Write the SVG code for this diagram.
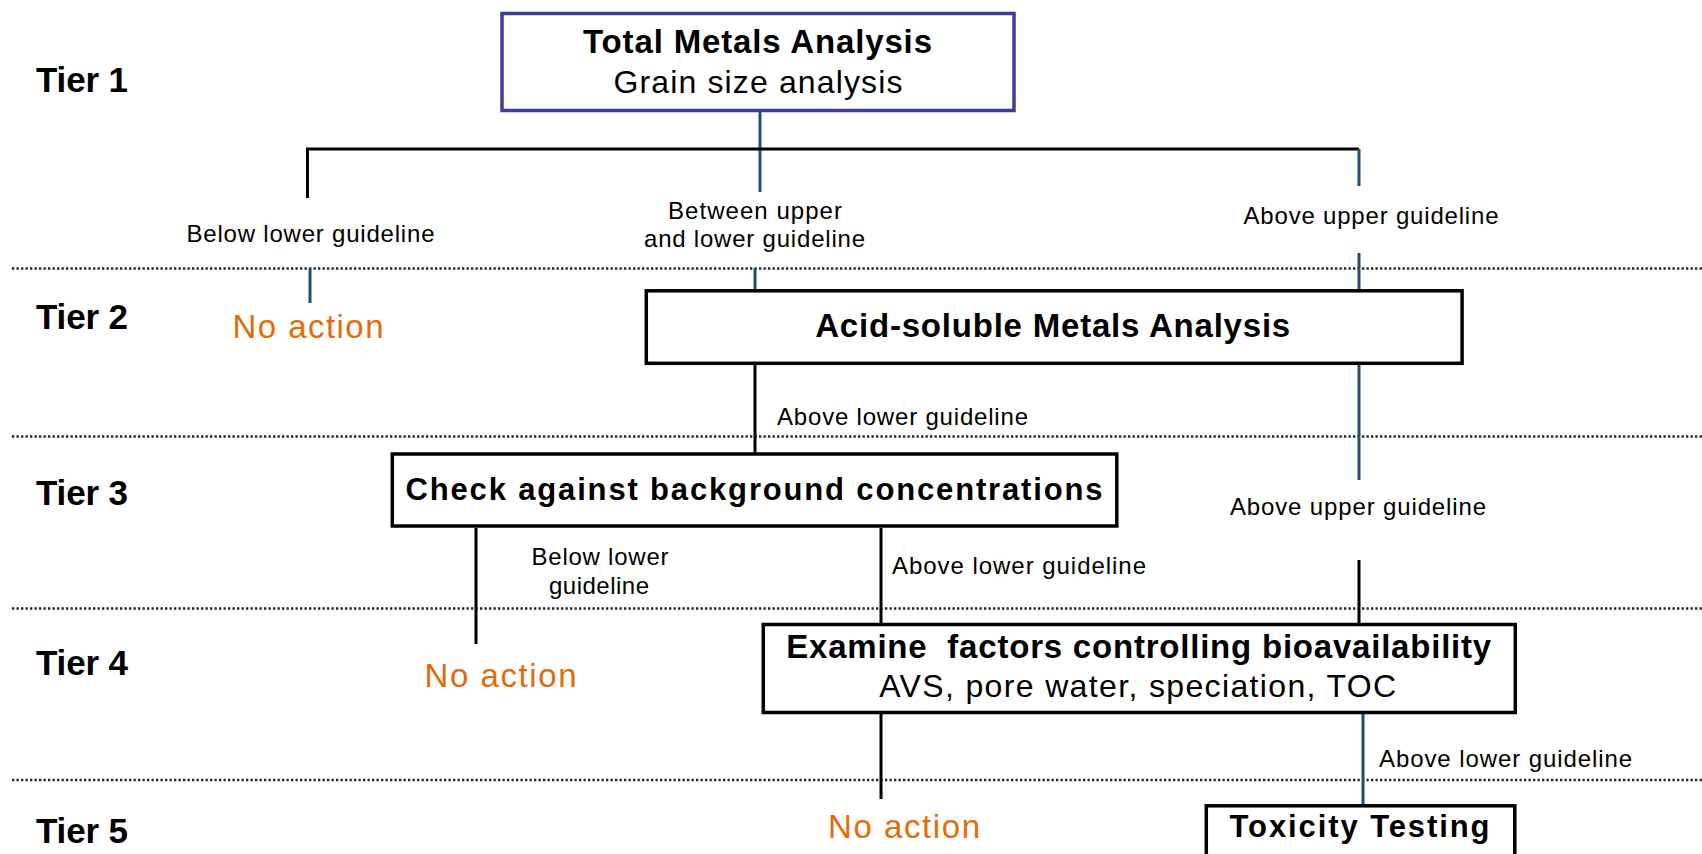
<svg xmlns="http://www.w3.org/2000/svg" width="1702" height="854" viewBox="0 0 1702 854">
<style>
text{font-family:"Liberation Sans",Arial,sans-serif;fill:#000}
.tier{font-size:35px;font-weight:bold}
.hb{font-size:33px;font-weight:bold}
.hr{font-size:32px}
.lbl{font-size:24px}
.na{font-size:33px;fill:#E36C09}
.box{fill:#fff;stroke:#000;stroke-width:3.5}
.box1{fill:#fff;stroke:#3C3C9C;stroke-width:3.5}
.k{stroke:#000;stroke-width:3;fill:none}
.b{stroke:#1F4E79;stroke-width:3;fill:none}
.dot{stroke:#222;stroke-width:2.4;stroke-dasharray:2.3 2.2;fill:none}
</style>
<rect width="1702" height="854" fill="#fff"/>
<g id="tier-separators">
<line class="dot" x1="12" y1="268.5" x2="1702" y2="268.5"/>
<line class="dot" x1="12" y1="436.5" x2="1702" y2="436.5"/>
<line class="dot" x1="12" y1="608.5" x2="1702" y2="608.5"/>
<line class="dot" x1="12" y1="780" x2="1702" y2="780"/>
</g>
<g id="tier-labels">
<text class="tier" x="36" y="92" textLength="92">Tier 1</text>
<text class="tier" x="36" y="329" textLength="92">Tier 2</text>
<text class="tier" x="36" y="505" textLength="92">Tier 3</text>
<text class="tier" x="36" y="675" textLength="92">Tier 4</text>
<text class="tier" x="36" y="843" textLength="92">Tier 5</text>
</g>
<g id="connectors">
<line class="b" x1="760" y1="112" x2="760" y2="192"/>
<path class="k" d="M307.5 198 V149 H1359"/>
<line class="b" x1="1359" y1="149" x2="1359" y2="186"/>
<line class="b" x1="310" y1="268" x2="310" y2="303"/>
<line class="b" x1="755" y1="268" x2="755" y2="289"/>
<line class="b" x1="1359" y1="253" x2="1359" y2="289"/>
<line class="k" x1="755" y1="365" x2="755" y2="453"/>
<line class="b" x1="1359" y1="365" x2="1359" y2="480"/>
<line class="k" x1="476" y1="528" x2="476" y2="644"/>
<line class="k" x1="881" y1="528" x2="881" y2="623"/>
<line class="k" x1="1359" y1="560" x2="1359" y2="623"/>
<line class="k" x1="881" y1="714" x2="881" y2="799"/>
<line class="b" x1="1363" y1="714" x2="1363" y2="804"/>
</g>
<g id="edge-labels">
<text class="lbl" x="186.5" y="242" textLength="248">Below lower guideline</text>
<text class="lbl" x="755" y="218.5" text-anchor="middle" textLength="174">Between upper</text>
<text class="lbl" x="754.5" y="246.5" text-anchor="middle" textLength="221">and lower guideline</text>
<text class="lbl" x="1371" y="224" text-anchor="middle" textLength="255">Above upper guideline</text>
<text class="lbl" x="777" y="425" textLength="251">Above lower guideline</text>
<text class="lbl" x="1358" y="515" text-anchor="middle" textLength="256">Above upper guideline</text>
<text class="lbl" x="600" y="565" text-anchor="middle" textLength="137">Below lower</text>
<text class="lbl" x="599" y="593.5" text-anchor="middle" textLength="100">guideline</text>
<text class="lbl" x="892" y="574" textLength="254">Above lower guideline</text>
<text class="lbl" x="1379" y="767" textLength="253">Above lower guideline</text>
</g>
<g id="node-total-metals">
<rect class="box1" x="502" y="13.5" width="512" height="97"/>
<text class="hb" x="757.5" y="53.3" text-anchor="middle" textLength="349">Total Metals Analysis</text>
<text class="hr" x="758" y="92.7" text-anchor="middle" textLength="289">Grain size analysis</text>
</g>
<g id="node-no-action-2">
<text class="na" x="232.5" y="338.3" textLength="151">No action</text>
</g>
<g id="node-acid-soluble">
<rect class="box" x="646.3" y="290.8" width="815.8" height="72.5"/>
<text class="hb" x="1052.7" y="337.3" text-anchor="middle" textLength="475">Acid-soluble Metals Analysis</text>
</g>
<g id="node-background">
<rect class="box" x="392.3" y="454" width="724.5" height="72"/>
<text class="hb" x="754" y="500" text-anchor="middle" textLength="697" style="font-size:31px">Check against background concentrations</text>
</g>
<g id="node-no-action-4">
<text class="na" x="424.5" y="687.3" textLength="152">No action</text>
</g>
<g id="node-bioavailability">
<rect class="box" x="763.3" y="624.5" width="752" height="88"/>
<text class="hb" x="1138.7" y="658.3" text-anchor="middle" textLength="705" xml:space="preserve">Examine  factors controlling bioavailability</text>
<text class="hr" x="1137.7" y="696.7" text-anchor="middle" textLength="517">AVS, pore water, speciation, TOC</text>
</g>
<g id="node-no-action-5">
<text class="na" x="828" y="838.3" textLength="152">No action</text>
</g>
<g id="node-toxicity">
<rect class="box" x="1206.3" y="805.8" width="308.5" height="60"/>
<text class="hb" x="1359.5" y="837" text-anchor="middle" textLength="260" style="font-size:31px">Toxicity Testing</text>
</g>
</svg>
